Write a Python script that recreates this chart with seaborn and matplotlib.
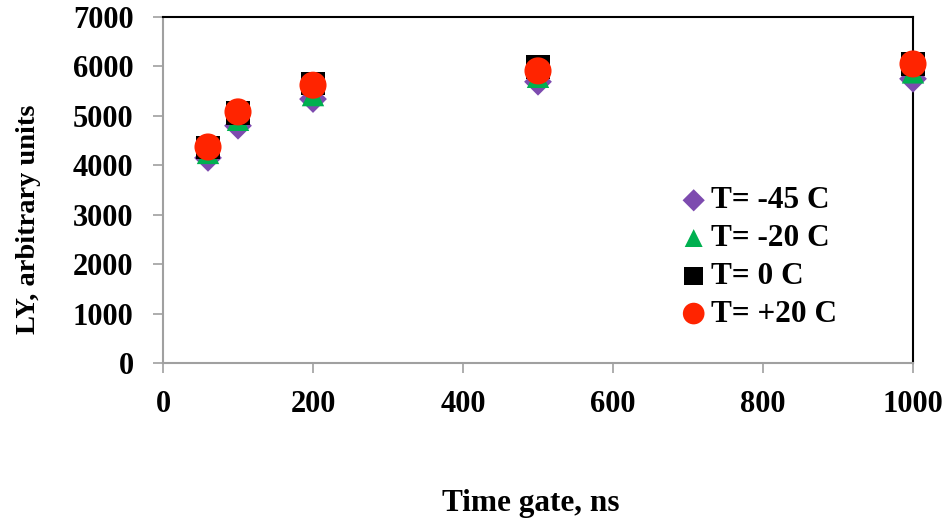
import matplotlib
matplotlib.use("Agg")
import matplotlib.pyplot as plt
import seaborn as sns
import pandas as pd

time_gate = [60, 100, 200, 500, 1000]
ly_m45 = [4150, 4800, 5340, 5690, 5750]
ly_m20 = [4250, 4920, 5420, 5790, 5880]
ly_0 = [4360, 5060, 5650, 5990, 6050]
ly_p20 = [4370, 5080, 5620, 5910, 6050]
labels = ["T= -45 C", "T= -20 C", "T= 0 C", "T= +20 C"]
x_ticks = [0, 200, 400, 600, 800, 1000]
y_ticks = [0, 1000, 2000, 3000, 4000, 5000, 6000, 7000]

sns.set_style("white")
plt.rcParams['font.family'] = ['Liberation Serif', 'DejaVu Serif']
plt.rcParams['font.weight'] = 'bold'
plt.rcParams['text.color'] = 'black'
plt.rcParams['xtick.color'] = 'black'
plt.rcParams['ytick.color'] = 'black'

fig = plt.figure(figsize=(9.45, 5.25), dpi=100)
ax = fig.add_axes([163/945, 1-363/525, (913-163)/945, (363-17)/525])

series = [ly_m45, ly_m20, ly_0, ly_p20]
colors = ["#7D4BAF", "#00B050", "#000000", "#FF2400"]
markers = ["D", "^", "s", "o"]
sizes = [200, 260, 280, 380]

for vals, lab, c, m, s in zip(series, labels, colors, markers, sizes):
    df = pd.DataFrame({"x": time_gate, "y": vals})
    sns.scatterplot(data=df, x="x", y="y", ax=ax, color=c, marker=m, s=s,
                    edgecolor="none", linewidth=0, label=lab, clip_on=False, zorder=3)

ax.set_xlim(0, 1000)
ax.set_ylim(0, 7000)
ax.set_xticks(x_ticks)
ax.set_yticks(y_ticks)
ax.tick_params(axis="both", which="major", labelsize=22, length=7.2, width=1.2,
               color="#A0A0A0", labelcolor="black", direction="out", pad=14)
ax.tick_params(axis="x", bottom=True, top=False, pad=12)
ax.tick_params(axis="y", left=True, right=False)
for lbl in ax.get_xticklabels() + ax.get_yticklabels():
    lbl.set_fontweight("bold")

for side in ["left", "bottom"]:
    ax.spines[side].set_color("#A0A0A0")
    ax.spines[side].set_linewidth(1.5)
for side in ["top", "right"]:
    ax.spines[side].set_color("#000000")
    ax.spines[side].set_linewidth(1.5)
    ax.spines[side].set_visible(True)

ax.set_xlabel("")
ax.set_ylabel("")
fig.text(531/945, 1-503/525, "Time gate, ns", ha="center", va="center",
         fontsize=22.5, fontweight="bold", color="black")
fig.text(29/945, 1-219/525, "LY, arbitrary units", ha="center", va="center",
         rotation=90, fontsize=20.5, fontweight="bold", color="black")

leg = ax.legend(loc="upper left", bbox_to_anchor=(664/945, 1-174/525),
                bbox_transform=fig.transFigure, frameon=False,
                prop={"size": 22.5, "weight": "bold"}, handletextpad=0.0,
                labelspacing=0.28, borderaxespad=0, markerscale=0.8, handlelength=1.1)
for t in leg.get_texts():
    t.set_color("black")

fig.savefig("out.png", dpi=100)
